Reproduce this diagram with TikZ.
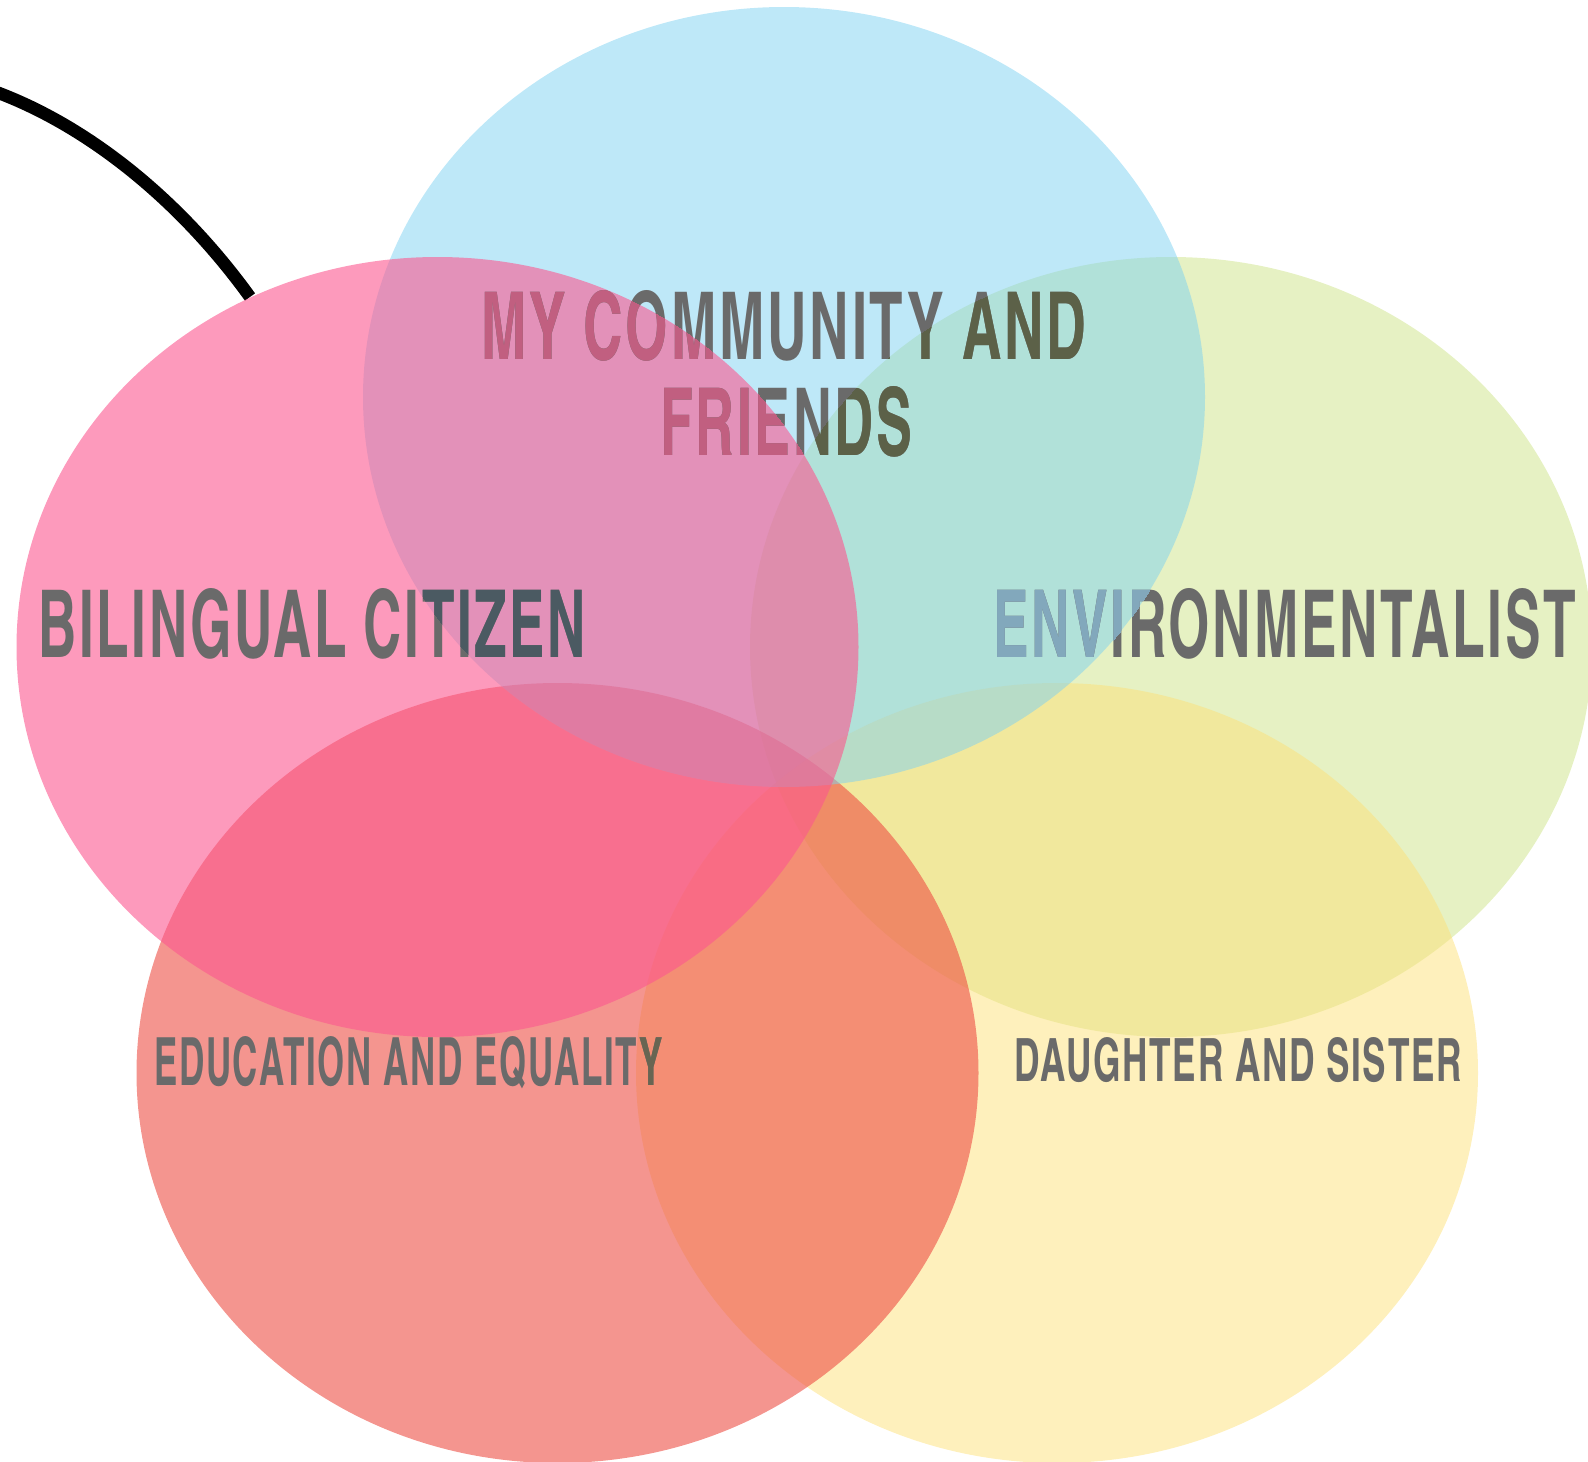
\documentclass[tikz,border=0pt]{standalone}
\usepackage{fontspec}
\usepackage{graphicx}
\newfontfamily\cnfont{texgyreheroscn-bold.otf}[LetterSpace=4]
\newcommand\fitlbl[3]{\resizebox{#1pt}{#2pt}{\cnfont #3}}
\definecolor{cGreen}{HTML}{CDE387}
\definecolor{cYellow}{HTML}{FDE179}
\definecolor{cRed}{HTML}{ED4E44}
\definecolor{cBlue}{HTML}{7DD1F1}
\definecolor{cPink}{HTML}{FC578F}
\definecolor{txtGray}{HTML}{6A6A6A}
\definecolor{txtOnPink}{HTML}{C15F80}
\definecolor{txtOnGreen}{HTML}{5C6148}
\definecolor{txtDarkBlue}{HTML}{4B5A62}
\definecolor{txtLightBlue}{HTML}{82A8BC}
\definecolor{txtOnYellow}{HTML}{686552}
\begin{document}
\begin{tikzpicture}[x=1pt,y=-1pt,
  lbl/.style={anchor=base west, inner sep=0pt, outer sep=0pt}]
\path[use as bounding box] (0,0) rectangle (1588,1462);
\clip (0,0) rectangle (1588,1462);
\coordinate (cg) at (1171,647);
\coordinate (cy) at (1057,1073);
\coordinate (cr) at (557.5,1073);
\coordinate (cb) at (784,397);
\coordinate (cp) at (437.5,647);
\coordinate (s0) at (-15,88);
\coordinate (s1) at (250,297);
% black arc
\draw[line width=12.5pt] (s0) .. controls (85,122) and (180,200) .. (s1);
% petals
\fill[cGreen, fill opacity=0.5] (cg) ellipse [x radius=421pt, y radius=390pt];
\fill[cYellow, fill opacity=0.5] (cy) ellipse [x radius=421pt, y radius=390pt];
\fill[cRed, fill opacity=0.6] (cr) ellipse [x radius=421pt, y radius=390pt];
\fill[cBlue, fill opacity=0.5] (cb) ellipse [x radius=421pt, y radius=390pt];
\fill[cPink, fill opacity=0.6] (cp) ellipse [x radius=421pt, y radius=390pt];
% labels
\node[lbl, text=txtGray] (t1a) at (481,359) {\fitlbl{605}{69}{MY COMMUNITY AND}};
\node[lbl, text=txtGray] (t1b) at (660,455) {\fitlbl{252}{69}{FRIENDS}};
\node[lbl, text=txtGray] (t2) at (38.5,657) {\fitlbl{547}{69}{BILINGUAL CITIZEN}};
\node[lbl, text=txtGray] (t3) at (993,657) {\fitlbl{583}{69}{ENVIRONMENTALIST}};
\node[lbl, text=txtGray] (t4) at (154,1085) {\fitlbl{509}{49}{EDUCATION AND EQUALITY}};
\node[lbl, text=txtGray] (t5) at (1014,1081) {\fitlbl{448}{44}{DAUGHTER AND SISTER}};
% tinted parts of the labels
\begin{scope}
  \clip (cg) ellipse [x radius=421pt, y radius=390pt];
  \node[lbl, text=txtOnGreen] (t1ag) at (481,359) {\fitlbl{605}{69}{MY COMMUNITY AND}};
  \node[lbl, text=txtOnGreen] (t1bg) at (660,455) {\fitlbl{252}{69}{FRIENDS}};
\end{scope}
\begin{scope}
  \clip (cp) ellipse [x radius=421pt, y radius=390pt];
  \node[lbl, text=txtOnPink] (t1ap) at (481,359) {\fitlbl{605}{69}{MY COMMUNITY AND}};
  \node[lbl, text=txtOnPink] (t1bp) at (660,455) {\fitlbl{252}{69}{FRIENDS}};
\end{scope}
\begin{scope}
  \clip (cb) ellipse [x radius=421pt, y radius=390pt];
  \node[lbl, text=txtDarkBlue] (t2b) at (38.5,657) {\fitlbl{547}{69}{BILINGUAL CITIZEN}};
  \node[lbl, text=txtLightBlue] (t3b) at (993,657) {\fitlbl{583}{69}{ENVIRONMENTALIST}};
\end{scope}
\begin{scope}
  \clip (cy) ellipse [x radius=421pt, y radius=390pt];
  \node[lbl, text=txtOnYellow] (t4y) at (154,1085) {\fitlbl{509}{49}{EDUCATION AND EQUALITY}};
\end{scope}
\end{tikzpicture}
\end{document}
